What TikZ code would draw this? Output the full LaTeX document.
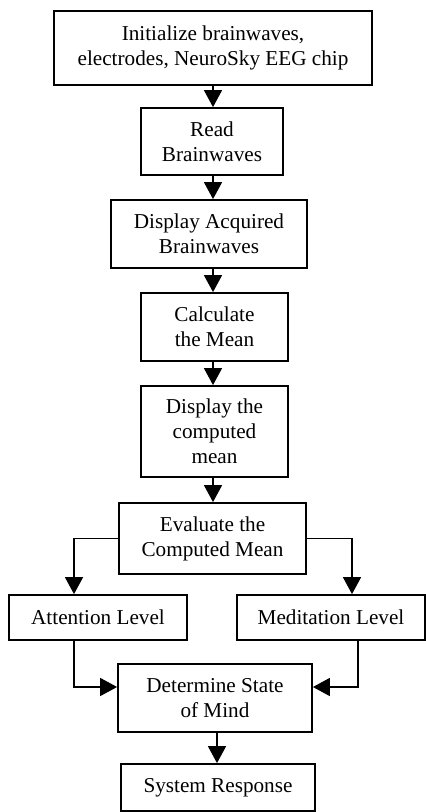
\documentclass[tikz,border=0pt]{standalone}
\usepackage{fontspec}
\setmainfont{Liberation Serif}
\usepackage{tikz}
\usetikzlibrary{arrows.meta}

\begin{document}
\begin{tikzpicture}[x=0.5pt, y=-0.5pt,
  box/.style={rectangle, draw, line width=0.9pt, align=center, inner sep=0pt, font=\fontsize{10.6}{12.6}\selectfont},
  arr/.style={-{Triangle[length=8.5pt, width=9pt]}, line width=0.8pt}]
\useasboundingbox (0,0) rectangle (426,812);

\node (init) [box, minimum width=159pt, minimum height=37pt] at (213,48) {Initialize brainwaves,\\electrodes, NeuroSky EEG chip};
\node (read) [box, minimum width=71pt, minimum height=33.5pt] at (212,141.5) {Read\\Brainwaves};
\node (acq) [box, minimum width=98pt, minimum height=34pt] at (209,234) {Display Acquired\\Brainwaves};
\node (calc) [box, minimum width=73.5pt, minimum height=34pt] at (214.5,327) {Calculate\\the Mean};
\node (dispmean) [box, minimum width=73.5pt, minimum height=45.5pt] at (214.5,431.5) {Display the\\computed\\mean};
\node (eval) [box, minimum width=93.5pt, minimum height=35.5pt] at (212.5,538.5) {Evaluate the\\Computed Mean};
\node (att) [box, minimum width=89pt, minimum height=22.5pt] at (98,617.5) {Attention Level};
\node (med) [box, minimum width=94pt, minimum height=22.5pt] at (331,617.5) {Meditation Level};
\node (mind) [box, minimum width=97pt, minimum height=34pt] at (215,698) {Determine State\\of Mind};
\node (resp) [box, minimum width=97pt, minimum height=23.5pt] at (218,787.5) {System Response};

\draw[arr] (init.south) -- (init.south |- read.north);
\draw[arr] ([xshift=0.5pt]read.south) -- ([xshift=0.5pt]read.south |- acq.north);
\draw[arr] ([xshift=2pt]acq.south) -- ([xshift=2pt]acq.south |- calc.north);
\draw[arr] ([xshift=-0.75pt]calc.south) -- ([xshift=-0.75pt]calc.south |- dispmean.north);
\draw[arr] ([xshift=-0.75pt]dispmean.south) -- ([xshift=-0.75pt]dispmean.south |- eval.north);
\draw[arr] (eval.west) -| ([xshift=-12pt]att.north);
\draw[arr] (eval.east) -| ([xshift=10.5pt]med.north);
\draw[arr] ([xshift=-12pt]att.south) |- ([yshift=5.5pt]mind.west);
\draw[arr] ([xshift=13.5pt]med.south) |- ([yshift=5.5pt]mind.east);
\draw[arr] ([xshift=1pt]mind.south) -- ([xshift=1pt]mind.south |- resp.north);
\end{tikzpicture}
\end{document}
